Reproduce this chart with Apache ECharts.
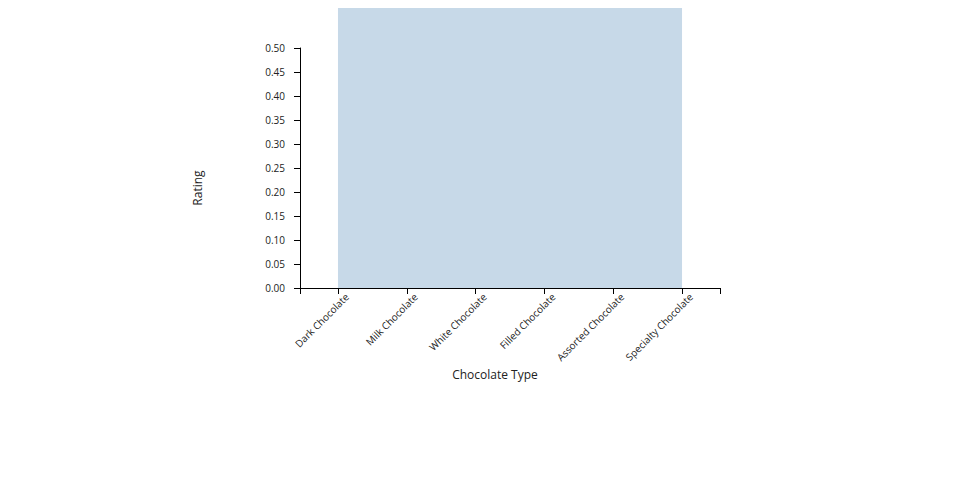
<!DOCTYPE html>
<html><head><meta charset="utf-8">
<script src="https://cdn.jsdelivr.net/npm/echarts@6/dist/echarts.min.js"></script>
<style>html,body{margin:0;padding:0;background:#fff}#c{position:absolute;left:0;top:8px;width:960px;height:492px;overflow:hidden}</style>
</head><body><div id="c"></div>
<script>
const categories = ["Dark Chocolate","Milk Chocolate","White Chocolate","Filled Chocolate","Assorted Chocolate","Specialty Chocolate"];
const ratings = [4.5, 4.2, 3.8, 4.3, 4.0, 4.6];
const yTicks = [0,0.05,0.1,0.15,0.2,0.25,0.3,0.35,0.4,0.45,0.5];
const pad = 0.552;
const labelShift = 0.13;
const chart = echarts.init(document.getElementById('c'), null, {renderer:'svg'});
const font = '"Open Sans", sans-serif';
chart.setOption({
  animation:false,
  grid:{left:300, right:240, top:40, bottom:212, containLabel:false},
  xAxis:{type:'value', min:-pad, max:categories.length-1+pad,
    splitLine:{show:false},
    axisLine:{show:true, onZero:false, lineStyle:{color:'#000', width:1}},
    axisTick:{show:true, length:6, lineStyle:{color:'#000'}, customValues:[-pad].concat(categories.map((c,i)=>i)).concat([categories.length-1+pad])},
    axisLabel:{customValues:categories.map((c,i)=>i+labelShift), rotate:45, formatter:v=>categories[Math.round(v)], fontFamily:font, fontSize:10, color:'#222', margin:7}
  },
  yAxis:{type:'value', min:0, max:0.5, interval:0.05,
    splitLine:{show:false},
    axisLine:{show:true, onZero:false, lineStyle:{color:'#000', width:1}},
    axisTick:{show:true, length:6, lineStyle:{color:'#000'}},
    axisLabel:{formatter:v=>v.toFixed(2), fontFamily:font, fontSize:10, color:'#222', margin:15}
  },
  graphic:[
    {type:'text', x:197, y:180, rotation:Math.PI/2, style:{text:'Rating', font:'12px '+font, fill:'#222', textAlign:'center', textVerticalAlign:'middle'}},
    {type:'text', x:495, y:366, style:{text:'Chocolate Type', font:'12px '+font, fill:'#222', textAlign:'center', textVerticalAlign:'middle'}}
  ],
  series:[{type:'line', clip:false, symbol:'none', z:1,
    data:ratings.map((v,i)=>[i,v]),
    lineStyle:{width:0, opacity:0},
    areaStyle:{color:'rgba(70,130,180,0.3)', opacity:1}
  }]
});
</script></body></html>
